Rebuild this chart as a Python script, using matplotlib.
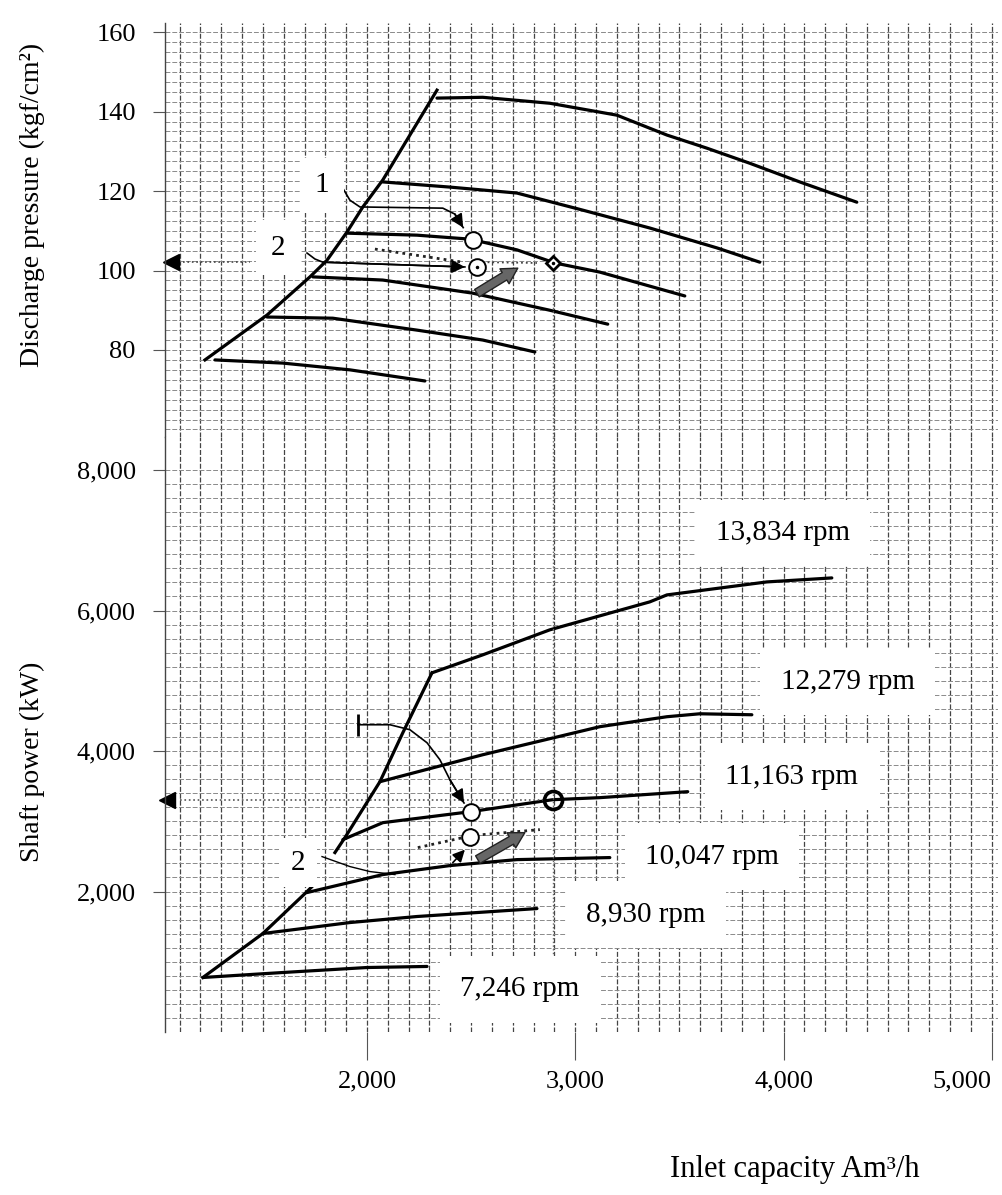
import numpy as np
import matplotlib
matplotlib.use("Agg")
import matplotlib.pyplot as plt
from matplotlib.ticker import MultipleLocator, FixedLocator, FuncFormatter

plt.rcParams['font.family'] = ['Liberation Serif', 'DejaVu Serif']

# ---- data ----
# discharge pressure (kgf/cm2) vs inlet capacity (Am3/h)
surge_p_q = [1222, 1520, 1726, 1808, 1904, 1980, 2076, 2336]
surge_p = [77.5, 88.8, 98.4, 102.6, 109.7, 116.0, 122.8, 145.4]

p13834_q = [2336, 2556, 2878, 3200, 3440, 3632, 3838, 4078, 4352]
p13834 = [143.4, 143.6, 142.1, 139.1, 134.1, 130.8, 127.0, 122.3, 117.2]
p12279_q = [2076, 2398, 2720, 3036, 3358, 3680, 3886]
p12279 = [122.3, 121.0, 119.5, 115.2, 110.7, 105.7, 102.1]
p11163_q = [1904, 2240, 2494, 2720, 2902, 3118, 3526]
p11163 = [109.4, 108.9, 107.9, 105.2, 101.9, 99.6, 93.6]
p10047_q = [1740, 2076, 2508, 2878, 3156]
p10047 = [98.4, 97.6, 94.3, 90.0, 86.5]
p8930_q = [1520, 1836, 2240, 2556, 2806]
p8930 = [88.3, 88.0, 85.0, 82.5, 79.5]
p7246_q = [1270, 1596, 1918, 2278]
p7246 = [77.5, 76.7, 75.0, 72.2]

# shaft power (kW) vs inlet capacity
surge_hi_q = [1846, 1894, 2062, 2172, 2312]
surge_hi_w = [2554, 2767, 3563, 4260, 5113]
surge_lo_q = [1212, 1500, 1712, 1736]
surge_lo_w = [776, 1402, 1999, 2070]

w13834_q = [2312, 2556, 2878, 3358, 3440, 3920, 4232]
w13834 = [5113, 5369, 5725, 6123, 6222, 6407, 6464]
w12279_q = [2062, 2556, 3118, 3440, 3598, 3848]
w12279 = [3563, 3947, 4346, 4488, 4530, 4516]
w11163_q = [1884, 2076, 2499, 2892, 3118, 3540]
w11163 = [2739, 2980, 3137, 3307, 3336, 3421]
w10047_q = [1712, 2076, 2398, 2720, 3166]
w10047 = [1985, 2241, 2369, 2454, 2483]
w8930_q = [1500, 1918, 2240, 2816]
w8930 = [1402, 1558, 1644, 1757]
w7246_q = [1212, 1596, 2000, 2288]
w7246 = [776, 847, 918, 933]

speed_labels = ['13,834 rpm', '12,279 rpm', '11,163 rpm', '10,047 rpm', '8,930 rpm', '7,246 rpm']
label_q = [3996, 4308, 4040, 3656, 3339, 2734]
label_w = [7104, 4985, 3634, 2497, 1672, 606]

# operating points
rated_q = 2892
rated_p, rated_w = 101.9, 3307
pt1_q, pt1_p, pt1_w = 2508, 107.7, 3137
pt2_q, pt2_p, pt2_w = 2528, 100.9, 2781

x_ticks = [2000, 3000, 4000, 5000]
p_ticks = [80, 100, 120, 140, 160]
w_ticks = [2000, 4000, 6000, 8000]

W, H = 1002, 1195


def px_box(l, t, r, b):
    return [l / W, 1 - b / H, (r - l) / W, (b - t) / H]


fig = plt.figure(figsize=(W / 100, H / 100), dpi=100)
ax_p = fig.add_axes(px_box(165, 23, 998, 437))
ax_w = fig.add_axes(px_box(165, 437, 998, 1032))

fmt = FuncFormatter(lambda v, pos: f"{v:,.0f}")
for ax in (ax_p, ax_w):
    ax.set_xlim(1030, 5030)
    for s in ('top', 'right', 'bottom'):
        ax.spines[s].set_visible(False)
    ax.spines['left'].set_color('#444')
    ax.spines['left'].set_linewidth(1.0)
    ax.xaxis.set_minor_locator(MultipleLocator(100))
    ax.set_axisbelow(True)
    ax.grid(which='both', axis='x', color='#444', lw=0.9, ls=(0, (4, 1.5)))
    ax.grid(which='both', axis='y', color='#8a8a8a', lw=0.7, ls=(0, (5, 2)))
    ax.tick_params(which='minor', length=0)
    ax.tick_params(axis='y', which='major', length=9, width=0.8, color='#555',
                   pad=12, labelsize=19)

ax_p.set_ylim(58.1, 162.3)
ax_p.set_yticks(p_ticks)
ax_p.yaxis.set_minor_locator(MultipleLocator(2.5))
ax_p.tick_params(axis='x', which='both', bottom=False, labelbottom=False)

ax_w.set_ylim(0, 8470)
ax_w.set_yticks(w_ticks)
ax_w.yaxis.set_major_formatter(fmt)
ax_w.yaxis.set_minor_locator(FixedLocator(np.arange(0, 8001, 200)))
ax_w.set_xticks(x_ticks)
ax_w.xaxis.set_major_formatter(fmt)
ax_w.tick_params(axis='x', which='major', length=20, width=0.8, color='#555',
                 pad=8, labelsize=19)
ax_w.get_xticklabels()[-1].set_ha('right')

lw = 2.3
# pressure curves
ax_p.plot(surge_p_q, surge_p, color='k', lw=lw)
for q, p in [(p13834_q, p13834), (p12279_q, p12279), (p11163_q, p11163),
             (p10047_q, p10047), (p8930_q, p8930), (p7246_q, p7246)]:
    ax_p.plot(q, p, color='k', lw=lw, solid_capstyle='round')

# power curves
ax_w.plot(surge_hi_q, surge_hi_w, color='k', lw=lw)
ax_w.plot(surge_lo_q, surge_lo_w, color='k', lw=lw)
for q, w in [(w13834_q, w13834), (w12279_q, w12279), (w11163_q, w11163),
             (w10047_q, w10047), (w8930_q, w8930), (w7246_q, w7246)]:
    ax_w.plot(q, w, color='k', lw=lw, solid_capstyle='round')

for txt, q, w in zip(speed_labels, label_q, label_w):
    ax_w.text(q, w, txt, fontsize=21, ha='center', va='center',
              bbox=dict(boxstyle='square,pad=0.7', fc='white', ec='none'))


def arrow_path(ax, qs, vs, lw_=1.2):
    ax.plot(qs, vs, color='k', lw=lw_)
    ax.annotate('', xy=(qs[-1], vs[-1]), xytext=(qs[-2], vs[-2]),
                arrowprops=dict(arrowstyle='-|>', color='k', lw=lw_,
                                mutation_scale=20, shrinkA=0, shrinkB=0))


def fat_arrow(ax, start, end):
    ax.annotate('', xy=end, xytext=start,
                arrowprops=dict(arrowstyle='simple,tail_width=0.45,head_width=0.9,head_length=0.8',
                                fc='#666', ec='#222', lw=1, mutation_scale=14,
                                shrinkA=0, shrinkB=0))


# ---- top panel annotations ----
ax_p.text(1784, 121.5, '1', fontsize=21, ha='center', va='center',
          bbox=dict(boxstyle='square,pad=0.5', fc='white', ec='none'))
ax_p.text(1572, 105.7, '2', fontsize=21, ha='center', va='center',
          bbox=dict(boxstyle='square,pad=0.5', fc='white', ec='none'))
arrow_path(ax_p, [1884, 1918, 1966, 2364, 2422, 2462],
           [120.7, 117.7, 116.0, 115.7, 114.2, 110.8])
arrow_path(ax_p, [1712, 1750, 1788, 2470], [104.4, 102.9, 102.1, 100.9])
ax_p.plot([2038, 2460], [105.4, 102.1], color='#222', lw=2, ls=(0, (1, 1.5)))
ax_p.plot([2556, 2816], [102.1, 101.9], color='#444', lw=1.3, ls=':')
ax_p.plot([1116, 1438], [102.1, 102.1], color='#444', lw=1.2, ls=':')
ax_p.plot([1060], [102.1], marker='<', color='k', ms=11, clip_on=False)
fat_arrow(ax_p, (2528, 94.3), (2724, 100.6))
ax_p.plot([pt1_q], [pt1_p], 'o', mfc='white', mec='k', ms=12, mew=1.4, zorder=5)
ax_p.plot([pt2_q], [pt2_p], 'o', mfc='white', mec='k', ms=12, mew=1.4, zorder=5)
ax_p.plot([pt2_q], [pt2_p], '.', color='k', ms=3, zorder=6)
ax_p.plot([rated_q, rated_q], [rated_p, 58.1], color='#666', lw=1, ls=':')
ax_p.plot([rated_q], [rated_p], 'D', mfc='white', mec='k', ms=7, mew=2, zorder=5)
ax_p.plot([rated_q], [rated_p], '.', color='k', ms=3, zorder=6)

# ---- bottom panel annotations ----
ax_w.plot([1956], [4374], marker='|', color='k', ms=16, mew=2)
arrow_path(ax_w, [1956, 2110, 2206, 2288, 2350, 2398, 2466],
           [4374, 4374, 4303, 4118, 3876, 3592, 3260])
ax_w.text(1668, 2411, '2', fontsize=21, ha='center', va='center',
          bbox=dict(boxstyle='square,pad=0.4', fc='white', ec='none'))
ax_w.plot([1784, 1918, 2014, 2134], [2497, 2355, 2284, 2241], color='k', lw=1)
ax_w.annotate('', xy=(2470, 2596), xytext=(2412, 2411),
              arrowprops=dict(arrowstyle='-|>', color='k', lw=1.2, mutation_scale=18,
                              shrinkA=0, shrinkB=0))
ax_w.plot([2244, 2460], [2625, 2767], color='#222', lw=2, ls=(0, (1, 1.5)))
ax_w.plot([2556, 2830], [2810, 2881], color='#222', lw=2, ls=(0, (1, 1.5)))
ax_w.plot([1102, 2844], [rated_w, rated_w], color='#555', lw=1.2, ls=':')
ax_w.plot([1040], [rated_w], marker='<', color='k', ms=11, clip_on=False)
fat_arrow(ax_w, (2532, 2454), (2758, 2838))
ax_w.plot([rated_q, rated_q], [8470, 1103], color='#666', lw=1, ls=':')
ax_w.plot([pt1_q - 9], [pt1_w], 'o', mfc='white', mec='k', ms=12, mew=1.4, zorder=5)
ax_w.plot([pt2_q - 34], [pt2_w], 'o', mfc='white', mec='k', ms=12, mew=1.4, zorder=5)
ax_w.plot([rated_q], [rated_w], 'o', mfc='none', mec='k', ms=13, mew=2.6, zorder=5)

# ---- axis titles ----
fig.text(32 / W, 1 - 205 / H, 'Discharge pressure (kgf/cm²)', rotation=90,
         ha='center', va='center', fontsize=20)
fig.text(32 / W, 1 - 762 / H, 'Shaft power (kW)', rotation=90,
         ha='center', va='center', fontsize=20)
fig.text(795 / W, 1 - 1170 / H, 'Inlet capacity Am³/h', ha='center', va='center',
         fontsize=22)

fig.savefig('out.png', dpi=100, facecolor='white')
